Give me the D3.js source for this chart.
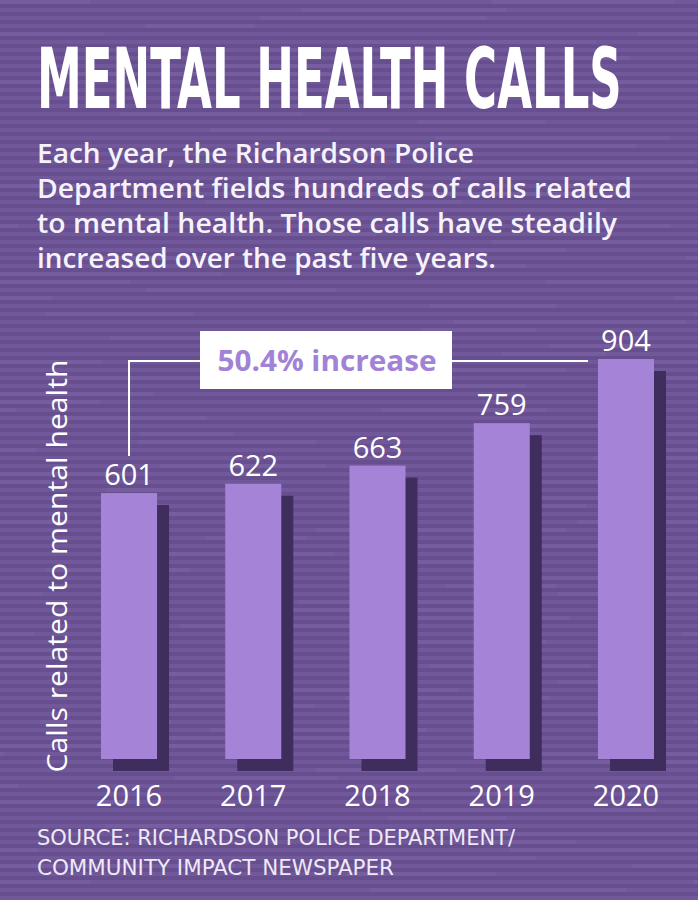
<!DOCTYPE html>
<html>
<head>
<meta charset="utf-8">
<script src="https://cdn.jsdelivr.net/npm/d3@7"></script>
<style>
  html, body { margin: 0; padding: 0; background: #6a5293; }
  svg { display: block; }
</style>
</head>
<body>
<svg id="chart" width="698" height="900"></svg>
<script>
// data
const years = ["2016", "2017", "2018", "2019", "2020"];
const calls = [601, 622, 663, 759, 904];
const title = "MENTAL HEALTH CALLS";
const intro = [
  "Each year, the Richardson Police",
  "Department fields hundreds of calls related",
  "to mental health. Those calls have steadily",
  "increased over the past five years."
];
const introWidths = [437, 595, 580, 459];
const source = ["SOURCE: RICHARDSON POLICE DEPARTMENT/", "COMMUNITY IMPACT NEWSPAPER"];
const sourceWidths = [478, 357];
const yLabel = "Calls related to mental health";
const callout = "50.4% increase";

const W = 698, H = 900;
const svg = d3.select("#chart");

// striped background
const defs = svg.append("defs");
const pat = defs.append("pattern")
  .attr("id", "stripes").attr("patternUnits", "userSpaceOnUse")
  .attr("width", 698).attr("height", 8);
pat.append("rect").attr("width", 698).attr("height", 8).attr("fill", "#674f8f");
pat.append("rect").attr("y", 0).attr("width", 698).attr("height", 4).attr("fill", "#70589a");
svg.append("rect").attr("width", W).attr("height", H).attr("fill", "url(#stripes)");

// lighter dashes across the stripes
const dashes = [];
for (let r = 0; r < 112; r++) {
  let x = -((r * 137) % 260);
  let k = r;
  while (x < W) {
    const len = 90 + ((k * 53) % 170);
    dashes.push({x: x, y: r * 8, w: len});
    x += len + 20 + ((k * 29) % 60);
    k += 7;
  }
}
svg.append("g").selectAll("rect").data(dashes.filter((d, i) => i % 3 === 0)).join("rect")
  .attr("x", d => d.x).attr("y", d => d.y).attr("width", d => d.w).attr("height", 4)
  .attr("fill", "#7a62a4").attr("opacity", 0.5);

// title: condensed bold, squeezed horizontally to fit 585px
const titleText = svg.append("text")
  .attr("font-family", "'DejaVu Sans Condensed', 'DejaVu Sans', sans-serif")
  .attr("font-weight", 700).attr("font-size", 84)
  .attr("fill", "#ffffff")
  .text(title);
const tw = titleText.node().getComputedTextLength();
titleText.attr("transform", `translate(37,108) scale(${585 / tw},1)`);

// intro
svg.append("g").selectAll("text").data(intro).join("text")
  .attr("x", 37).attr("y", (d, i) => 163 + i * 35)
  .attr("font-family", "'Open Sans', sans-serif")
  .attr("font-weight", 600).attr("font-size", 27)
  .attr("fill", "#f6f2fa")
  .attr("textLength", (d, i) => introWidths[i]).attr("lengthAdjust", "spacingAndGlyphs")
  .text(d => d);

// scales
const x = d3.scaleBand().domain(years).range([101, 654]).paddingInner(0.549).paddingOuter(0);
const y = d3.scaleLinear().domain([0, 904]).range([759, 359]);
const rows = years.map((yr, i) => ({year: yr, value: calls[i]}));

// shadows
svg.append("g").selectAll("rect").data(rows).join("rect")
  .attr("x", d => x(d.year) + 12).attr("y", d => y(d.value) + 12)
  .attr("width", x.bandwidth()).attr("height", d => y(0) - y(d.value))
  .attr("fill", "#3f2d5e");

// bars
svg.append("g").selectAll("rect").data(rows).join("rect")
  .attr("x", d => x(d.year)).attr("y", d => y(d.value))
  .attr("width", x.bandwidth()).attr("height", d => y(0) - y(d.value))
  .attr("fill", "#a584d8");

// value labels
svg.append("g").selectAll("text").data(rows).join("text")
  .attr("x", d => x(d.year) + x.bandwidth() / 2).attr("y", d => y(d.value) - 8)
  .attr("text-anchor", "middle")
  .attr("font-family", "'Open Sans', sans-serif").attr("font-size", 29)
  .attr("fill", "#ffffff")
  .text(d => d.value);

// year axis
const xAxis = svg.append("g").attr("transform", `translate(0,${y(0)})`)
  .call(d3.axisBottom(x).tickSize(0).tickPadding(47));
xAxis.select(".domain").remove();
xAxis.selectAll("text")
  .attr("font-family", "'Open Sans', sans-serif").attr("font-size", 29)
  .attr("fill", "#ffffff").attr("dy", 0);

// y label
svg.append("text")
  .attr("transform", "translate(67,566) rotate(-90)")
  .attr("text-anchor", "middle")
  .attr("font-family", "'Open Sans', sans-serif").attr("font-size", 28)
  .attr("fill", "#ffffff")
  .attr("textLength", 413).attr("lengthAdjust", "spacingAndGlyphs")
  .text(yLabel);

// callout bracket
const cx0 = x(years[0]) + x.bandwidth() / 2;
const by = 361;
svg.append("path")
  .attr("d", `M${cx0},${y(calls[0]) - 37}V${by}H200M452,${by}H588`)
  .attr("fill", "none").attr("stroke", "#ffffff").attr("stroke-width", 2);
svg.append("rect").attr("x", 200).attr("y", 331).attr("width", 252).attr("height", 58)
  .attr("fill", "#ffffff");
svg.append("text")
  .attr("x", 327).attr("y", 371).attr("text-anchor", "middle")
  .attr("font-family", "'Open Sans', sans-serif").attr("font-weight", 700).attr("font-size", 29)
  .attr("fill", "#a282d6")
  .attr("textLength", 219).attr("lengthAdjust", "spacingAndGlyphs")
  .text(callout);

// source
svg.append("g").selectAll("text").data(source).join("text")
  .attr("x", 37).attr("y", (d, i) => 845 + i * 30)
  .attr("font-family", "'DejaVu Sans Condensed', 'DejaVu Sans', sans-serif")
  .attr("font-size", 21)
  .attr("fill", "#efe9f6")
  .attr("textLength", (d, i) => sourceWidths[i]).attr("lengthAdjust", "spacingAndGlyphs")
  .text(d => d);
</script>
</body>
</html>
